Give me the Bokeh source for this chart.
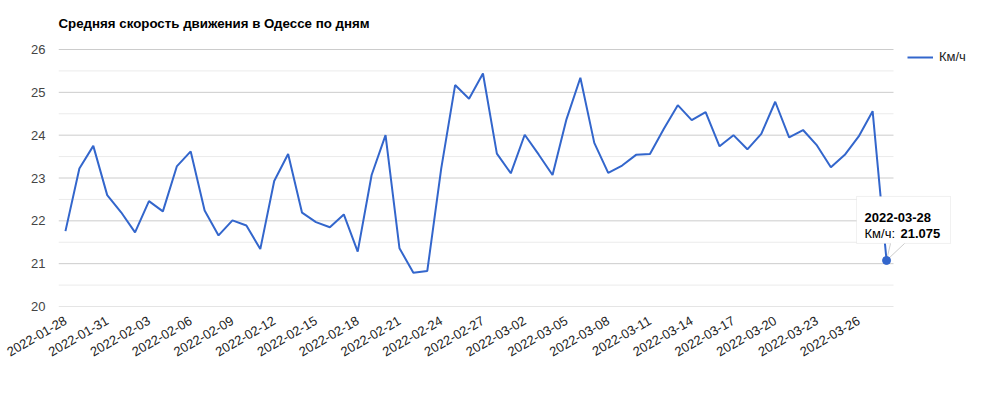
import datetime as dt
from bokeh.plotting import figure
from bokeh.models import (FixedTicker, Legend, LegendItem, Label, BoxAnnotation, Range1d)
from bokeh.embed import file_html
from bokeh.resources import INLINE

title_text = "Средняя скорость движения в Одессе по дням"
series_name = "Км/ч"

start = dt.date(2022, 1, 28)
dates = [(start + dt.timedelta(days=i)).isoformat() for i in range(60)]

speeds = [21.76, 23.22, 23.75, 22.60, 22.20, 21.73, 22.46, 22.22, 23.27, 23.62,
          22.24, 21.66, 22.01, 21.89, 21.34, 22.93, 23.56, 22.19, 21.97, 21.85,
          22.15, 21.28, 23.07, 24.00, 21.36, 20.79, 20.83, 23.22, 25.17, 24.85,
          25.44, 23.57, 23.11, 24.01, 23.55, 23.07, 24.37, 25.34, 23.82, 23.12,
          23.29, 23.54, 23.56, 24.15, 24.70, 24.35, 24.54, 23.74, 24.00, 23.67,
          24.03, 24.78, 23.95, 24.12, 23.76, 23.25, 23.54, 23.97, 24.56, 21.075]

y_ticks = [20, 21, 22, 23, 24, 25, 26]
x_tick_idx = list(range(0, 60, 3))

FONT = "Liberation Sans"
FS = "13px"
W, H = 1000, 398
# chart area (where grid lines are drawn): x 58..893, y 49..306
AREA_L, AREA_R, AREA_T, AREA_B = 58, 893, 49, 306
# Bokeh frame is larger so that legend / tooltip are not clipped
ML, MT = 58, 40
MR, MB = 0, H - AREA_B
FW, FH = W - ML - MR, H - MT - MB

n = len(dates)
xs = list(range(n))
band = (AREA_R - AREA_L) / n                     # px per category
unit = (AREA_B - AREA_T) / (y_ticks[-1] - y_ticks[0])  # px per km/h
x0 = -0.5
x1 = x0 + FW / band
y0 = y_ticks[0]
y1 = y_ticks[-1] + (AREA_T - MT) / unit
px_x = 1.0 / band
px_y = 1.0 / unit

p = figure(width=W, height=H, output_backend="svg", toolbar_location=None,
           x_range=Range1d(x0, x1), y_range=Range1d(y0, y1),
           min_border_left=ML, min_border_right=MR, min_border_top=MT,
           min_border_bottom=MB, outline_line_color=None)

p.title.text = title_text
p.title.text_font = FONT
p.title.text_font_size = "13.3px"
p.title.text_font_style = "bold"
p.title.text_color = "#000000"
p.title.align = "left"
p.title.standoff = 19

p.xgrid.grid_line_color = None
p.ygrid.grid_line_color = None

# horizontal grid lines limited to the chart area
grid_major = [float(v) for v in y_ticks]
grid_minor = [v + 0.5 for v in y_ticks[:-1]]
p.segment(x0=[-0.5] * len(grid_minor), x1=[n - 0.5] * len(grid_minor),
          y0=grid_minor, y1=grid_minor, line_color="#ebebeb", line_width=1)
p.segment(x0=[-0.5] * len(grid_major), x1=[n - 0.5] * len(grid_major),
          y0=grid_major, y1=grid_major, line_color="#cccccc", line_width=1)

# axes
p.yaxis.ticker = FixedTicker(ticks=y_ticks)
p.yaxis.axis_line_color = None
p.yaxis.major_tick_line_color = None
p.yaxis.minor_tick_line_color = None
p.yaxis.major_tick_in = 0
p.yaxis.major_tick_out = 0
p.yaxis.major_label_standoff = 13
p.yaxis.major_label_text_font = FONT
p.yaxis.major_label_text_font_size = FS
p.yaxis.major_label_text_color = "#444444"

p.xaxis.ticker = FixedTicker(ticks=x_tick_idx)
p.xaxis.major_label_overrides = {i: dates[i] for i in x_tick_idx}
p.xaxis.axis_line_color = None
p.xaxis.major_tick_line_color = None
p.xaxis.minor_tick_line_color = None
p.xaxis.major_tick_in = 0
p.xaxis.major_tick_out = 0
p.xaxis.major_label_standoff = 13
p.xaxis.major_label_orientation = 0.5236
p.xaxis.major_label_text_font = FONT
p.xaxis.major_label_text_font_size = FS
p.xaxis.major_label_text_color = "#222222"

line = p.line(xs, speeds, line_color="#3366cc", line_width=2)

legend = Legend(items=[LegendItem(label=series_name, renderers=[line])],
                location=(907 - ML, 242), orientation="vertical")
legend.margin = 0
legend.padding = 0
legend.border_line_color = None
legend.background_fill_alpha = 0
legend.glyph_width = 26
legend.glyph_height = 14
legend.label_height = 14
legend.label_standoff = 6
legend.label_text_font = FONT
legend.label_text_font_size = FS
legend.label_text_color = "#222222"
p.add_layout(legend)

# tooltip for the last point
li, lv = xs[-1], speeds[-1]

box = BoxAnnotation(left=li - 30 * px_x, right=li + 64 * px_x,
                    bottom=lv + 17 * px_y, top=lv + 64 * px_y,
                    fill_color="#ffffff", fill_alpha=1.0,
                    line_color="#cccccc", line_width=1)
p.add_layout(box)

ptr_x = [li, li + 4 * px_x, li + 18 * px_x]
ptr_y = [lv, lv + 17.5 * px_y, lv + 17.5 * px_y]
p.patch(ptr_x, ptr_y, fill_color="#ffffff", line_color=None, level="overlay")
p.multi_line([[li, li + 4 * px_x], [li, li + 18 * px_x]],
             [[lv, lv + 17 * px_y], [lv, lv + 17 * px_y]],
             line_color="#cccccc", line_width=1, level="overlay")
p.scatter([li], [lv], size=8, fill_color="#3366cc", line_color="#3366cc",
          level="overlay")

p.add_layout(Label(x=li, y=lv, x_offset=-22, y_offset=43, text=dates[-1],
                   text_font=FONT, text_font_size=FS, text_font_style="bold",
                   text_color="#000000", text_baseline="alphabetic"))
p.add_layout(Label(x=li, y=lv, x_offset=-22, y_offset=27, text=series_name + ":",
                   text_font=FONT, text_font_size=FS,
                   text_color="#000000", text_baseline="alphabetic"))
p.add_layout(Label(x=li, y=lv, x_offset=14, y_offset=27, text=str(speeds[-1]),
                   text_font=FONT, text_font_size=FS, text_font_style="bold",
                   text_color="#000000", text_baseline="alphabetic"))

open("out.html", "w").write(file_html(p, INLINE))
